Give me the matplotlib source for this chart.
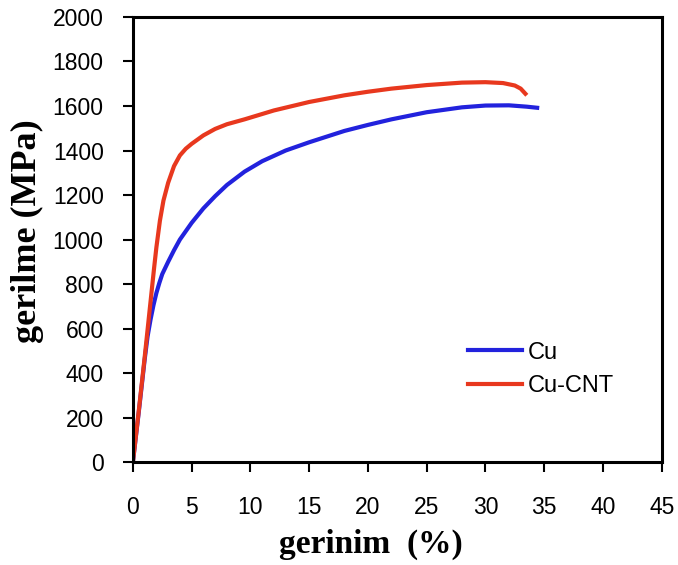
import numpy as np
import matplotlib.pyplot as plt

# strain (%) and stress (MPa)
cu_strain = [0, 0.5, 1.0, 1.25, 1.5, 1.75, 2.0, 2.25, 2.5, 3.0, 3.5, 4.0, 5.0, 6.0, 7.0, 8.0,
             9.5, 11.0, 13.0, 15.0, 18.0, 20.0, 22.0, 25.0, 28.0, 30.0, 32.0, 33.5, 34.4]
cu_stress = [0, 225, 460, 565, 640, 705, 760, 805, 845, 900, 952, 1000, 1075, 1140, 1195, 1245,
             1305, 1352, 1400, 1437, 1488, 1515, 1540, 1572, 1594, 1602, 1603, 1597, 1592]

cnt_strain = [0, 0.5, 1.0, 1.5, 1.8, 2.0, 2.3, 2.6, 3.0, 3.5, 4.0, 4.5, 5.0, 6.0, 7.0, 8.0, 9.5,
              12.0, 15.0, 18.0, 20.0, 22.0, 25.0, 28.0, 30.0, 31.5, 32.5, 33.0, 33.4]
cnt_stress = [0, 230, 470, 720, 870, 965, 1085, 1175, 1255, 1330, 1378, 1408, 1430, 1468, 1497, 1518, 1540,
              1580, 1618, 1648, 1664, 1678, 1694, 1705, 1707, 1703, 1692, 1678, 1655]

fig = plt.figure(figsize=(6.78, 5.65), dpi=100)
ax = fig.add_axes([0.196, 0.182, 0.78, 0.788])

ax.plot(cu_strain, cu_stress, color='#2222dd', lw=3, label='Cu')
ax.plot(cnt_strain, cnt_stress, color='#e8381e', lw=3, label='Cu-CNT')

ax.set_xlim(0, 45)
ax.set_ylim(0, 2000)
ax.set_xticks(np.arange(0, 46, 5))
ax.set_yticks(np.arange(0, 2001, 200))

for lab in ax.get_xticklabels() + ax.get_yticklabels():
    lab.set_fontfamily('Liberation Sans')
    lab.set_fontsize(16.5)
ax.tick_params(direction='out', length=7, width=1.5, color='black')
ax.tick_params(axis='x', pad=17)
ax.tick_params(axis='y', pad=14)
for sp in ax.spines.values():
    sp.set_linewidth(2.2)

ax.set_xlabel('gerinim  (%)', family='Liberation Serif', weight='bold', size=24)
ax.set_ylabel('gerilme (MPa)', family='Liberation Serif', weight='bold', size=26)
ax.xaxis.set_label_coords(0.45, -0.15)
ax.yaxis.set_label_coords(-0.168, 0.52)

ax.legend(loc='center left', bbox_to_anchor=(0.633, 0.208), frameon=False,
          prop={'family': 'Liberation Sans', 'size': 17}, borderpad=0, borderaxespad=0,
          handlelength=2.3, handletextpad=0.25, labelspacing=0.5)

fig.savefig('out.png', dpi=100)
